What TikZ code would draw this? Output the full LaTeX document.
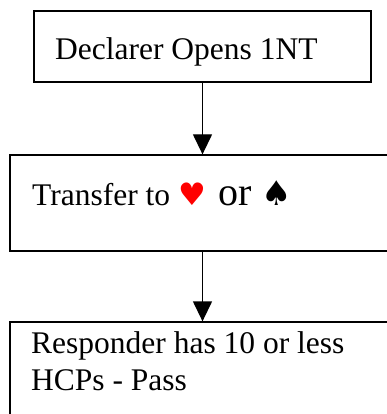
\documentclass[tikz,border=0pt]{standalone}
\usepackage{fontspec}
\setmainfont{Liberation Serif}
\newfontfamily\symfont{DejaVu Sans}
\usetikzlibrary{arrows.meta}
\begin{document}
\begin{tikzpicture}[x=1pt,y=-1pt,
  box/.style={draw=black,line width=1.3pt,rectangle,inner sep=0pt},
  lbl/.style={inner sep=0pt,font=\fontsize{31.5}{37}\selectfont},
  conn/.style={line width=1.3pt,-{Triangle[width=19pt,length=20pt]}}]
\useasboundingbox (0,0) rectangle (387,414);
\clip (0,0) rectangle (387,414);
\node[box,minimum width=337pt,minimum height=71pt] (b1) at (202.5,46.5) {};
\node[box,minimum width=420pt,minimum height=96pt] (b2) at (220,203) {};
\node[box,minimum width=420pt,minimum height=148pt] (b3) at (220,396) {};
\node[lbl,anchor=base west] (t1) at (55,60) {Declarer Opens 1NT};
\node[lbl,anchor=base west] (t2) at (32,205) {Transfer to {\symfont\fontsize{31}{31}\selectfont\color{red}♥}\hspace{0.4em}{\fontsize{40}{40}\selectfont or}\hspace{0.3em}{\symfont\fontsize{34}{34}\selectfont ♠}};
\node[lbl,anchor=north west,align=left] (t3) at (31,331) {Responder has 10 or less\\HCPs - Pass};
\draw[conn] (b1.south) -- (b1.south |- b2.north);
\draw[conn] (b1.south |- b2.south) -- (b1.south |- b3.north);
\end{tikzpicture}
\end{document}
